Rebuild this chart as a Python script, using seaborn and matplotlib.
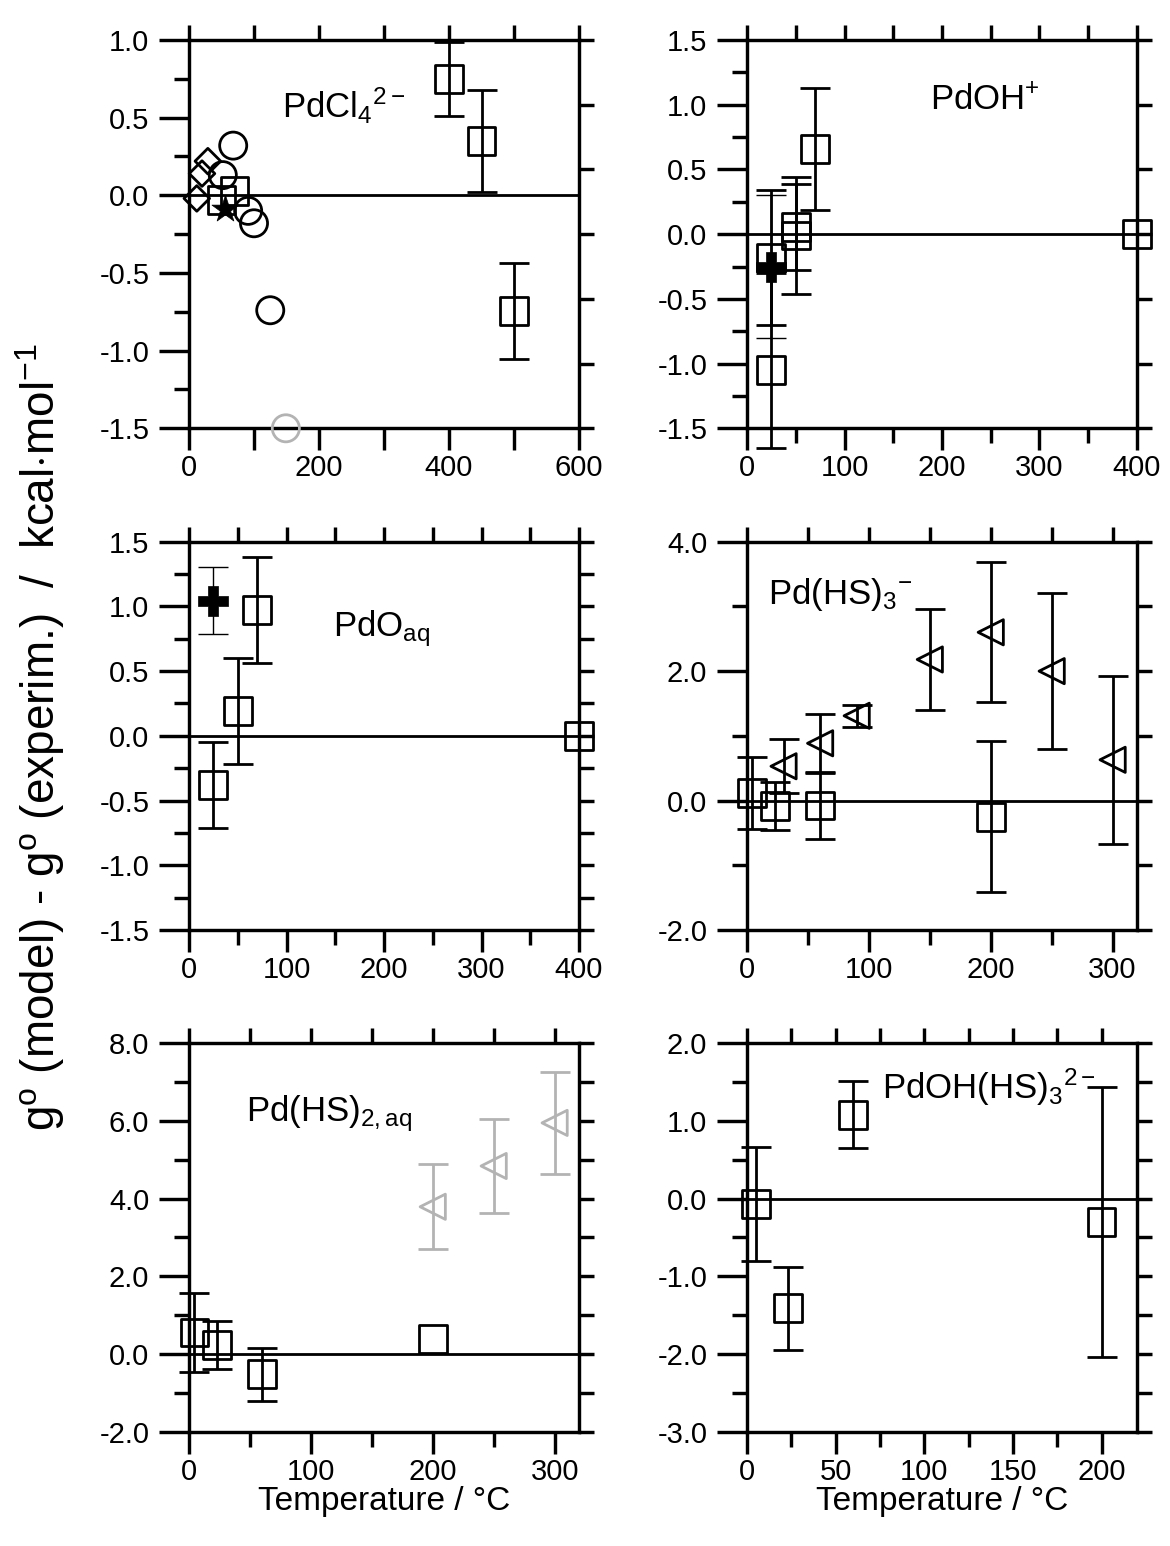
import numpy as np
import matplotlib
matplotlib.use("Agg")
import matplotlib.pyplot as plt
from matplotlib.ticker import MultipleLocator, FuncFormatter
import seaborn as sns

# ---------------- data: deviation g(model) - g(experiment), kcal/mol ----------------
# PdCl4 2-
cl_sq_T = [400, 450, 500]
cl_sq_y = [0.75, 0.35, -0.745]
cl_sq_err = [0.24, 0.33, 0.31]
cl_sq2_T = [50, 70]
cl_sq2_y = [-0.03, 0.03]
cl_circ_T = [68, 52, 91, 100, 125]
cl_circ_y = [0.32, 0.13, -0.10, -0.18, -0.74]
cl_gray_T = [149]
cl_gray_y = [-1.5]
cl_dia_T = [29, 20, 12]
cl_dia_y = [0.22, 0.14, -0.02]
cl_star_T = [55]
cl_star_y = [-0.085]

# PdOH+
oh_sq_T = [25, 25, 50, 50, 70]
oh_sq_y = [-0.18, -1.05, 0.055, -0.01, 0.66]
oh_sq_lo = [0.52, 0.60, 0.335, 0.45, 0.47]
oh_sq_hi = [0.52, 0.75, 0.335, 0.45, 0.47]
oh_sq2_T = [400]
oh_sq2_y = [0.0]
oh_plus_T = [25]
oh_plus_y = [-0.25]
oh_plus_err = [0.555]

# PdO(aq)
o_sq_T = [25, 50, 70]
o_sq_y = [-0.38, 0.19, 0.97]
o_sq_err = [0.335, 0.41, 0.41]
o_sq2_T = [400]
o_sq2_y = [0.0]
o_plus_T = [25]
o_plus_y = [1.045]
o_plus_err = [0.26]

# Pd(HS)3-
hs3_tri_T = [30, 60, 90, 150, 200, 250, 300]
hs3_tri_y = [0.53, 0.885, 1.31, 2.18, 2.60, 2.00, 0.63]
hs3_tri_err = [0.42, 0.455, 0.17, 0.78, 1.08, 1.20, 1.30]
hs3_sq_T = [4, 23, 60, 200]
hs3_sq_y = [0.12, -0.085, -0.075, -0.25]
hs3_sq_err = [0.56, 0.365, 0.515, 1.17]

# Pd(HS)2(aq)
hs2_tri_T = [200, 250, 300]
hs2_tri_y = [3.79, 4.84, 5.95]
hs2_tri_err = [1.09, 1.20, 1.32]
hs2_sq_T = [4.5, 22.7, 60]
hs2_sq_y = [0.55, 0.235, -0.525]
hs2_sq_err = [1.01, 0.625, 0.685]
hs2_sq2_T = [200]
hs2_sq2_y = [0.38]

# PdOH(HS)3 2-
ohs_sq_T = [5, 23, 60, 200]
ohs_sq_y = [-0.07, -1.41, 1.08, -0.30]
ohs_sq_err = [0.73, 0.535, 0.43, 1.74]

# ---------------- style ----------------
sns.set_theme(style="white")
plt.rcParams["font.family"] = ["Liberation Sans", "DejaVu Sans"]
plt.rcParams["mathtext.fontset"] = "custom"
plt.rcParams["mathtext.rm"] = "Liberation Sans"
plt.rcParams["mathtext.it"] = "Liberation Sans:italic"
plt.rcParams["axes.unicode_minus"] = False
for key in ("text.color", "axes.labelcolor", "xtick.color", "ytick.color", "axes.edgecolor"):
    plt.rcParams[key] = "black"

PX = 72.0 / 100.0          # points per pixel at dpi 100
GRAY = "#b3b3b3"
TICK_FS = 21
LABEL_FS = 25
SPINE_W = 3.4 * PX
BAR_W = 2.0
EDGE_W = 2.0

fig = plt.figure(figsize=(11.7, 15.46), dpi=100)
W, H = 1170.0, 1546.0


def make_ax(left_px, top_px, w_px=390.0, h_px=388.3):
    return fig.add_axes([left_px / W, 1 - (top_px + h_px) / H, w_px / W, h_px / H])


def hollow(ax, T, y, marker, size, color="black", lw=EDGE_W):
    sns.scatterplot(x=T, y=y, marker=marker, s=size, facecolor="none",
                    edgecolor=color, linewidth=lw, ax=ax, clip_on=False,
                    zorder=5, legend=False)


def filled(ax, T, y, marker, size, color="black"):
    sns.scatterplot(x=T, y=y, marker=marker, s=size, color=color,
                    edgecolor=color, linewidth=0.5, ax=ax, clip_on=False,
                    zorder=6, legend=False)


def bars(ax, T, y, err, color="black", lw=BAR_W, cap=11):
    cont = ax.errorbar(T, y, yerr=err, fmt="none", ecolor=color, elinewidth=lw,
                       capsize=cap, capthick=lw, zorder=4)
    for child in cont.get_children():
        child.set_clip_on(False)


def style(ax, xlim, xmaj, xmin, xlab_every, ylim, ymaj, ymin, rlim, rstep, topstep):
    ax.set_xlim(*xlim)
    ax.set_ylim(*ylim)
    for s in ax.spines.values():
        s.set_linewidth(SPINE_W)
        s.set_color("black")
        s.set_visible(True)
    ax.axhline(0, color="black", lw=2.8 * PX, zorder=2)

    ax.xaxis.set_major_locator(MultipleLocator(xmaj))
    if xmin:
        ax.xaxis.set_minor_locator(MultipleLocator(xmin))
    ax.xaxis.set_major_formatter(FuncFormatter(
        lambda v, p: ("%d" % round(v)) if abs(v / xlab_every - round(v / xlab_every)) < 1e-6 else ""))
    ax.yaxis.set_major_locator(MultipleLocator(ymaj))
    ax.yaxis.set_minor_locator(MultipleLocator(ymin))
    ax.yaxis.set_major_formatter(FuncFormatter(lambda v, p: ("%.1f" % v).replace("-0.0", "0.0")))

    ax.tick_params(axis="y", which="major", direction="out", length=30 * PX,
                   width=SPINE_W, color="black", labelsize=TICK_FS, pad=7,
                   left=True, right=False)
    ax.tick_params(axis="y", which="minor", direction="out", length=15 * PX,
                   width=SPINE_W, color="black", left=True, right=False)
    ax.tick_params(axis="x", which="major", direction="out", length=22 * PX,
                   width=SPINE_W, color="black", labelsize=TICK_FS, pad=3,
                   bottom=True, top=False)
    ax.tick_params(axis="x", which="minor", direction="out", length=15 * PX,
                   width=SPINE_W, color="black", bottom=True, top=False)
    ax.grid(False)

    # mirrored tick marks on the right and top frames
    rx = ax.twinx()
    rx.set_ylim(*rlim)
    rx.yaxis.set_major_locator(MultipleLocator(rstep))
    rx.tick_params(axis="y", direction="out", length=15 * PX, width=SPINE_W,
                   color="black", labelright=False)
    tx = ax.twiny()
    tx.set_xlim(*xlim)
    tx.xaxis.set_major_locator(MultipleLocator(topstep))
    tx.tick_params(axis="x", direction="out", length=15 * PX, width=SPINE_W,
                   color="black", labeltop=False)
    for t in (rx, tx):
        for s in t.spines.values():
            s.set_visible(False)
        t.grid(False)


# ---------------- panel 1: PdCl4 2- ----------------
ax1 = make_ax(189, 40)
style(ax1, (0, 600), 100, None, 200, (-1.5, 1.0), 0.5, 0.25, (-1.5, 1.5), 0.5, 100)
bars(ax1, cl_sq_T, cl_sq_y, cl_sq_err)
hollow(ax1, cl_sq_T, cl_sq_y, "s", 400)
hollow(ax1, cl_dia_T, cl_dia_y, "D", 170)
hollow(ax1, cl_circ_T, cl_circ_y, "o", 380)
hollow(ax1, cl_sq2_T, cl_sq2_y, "s", 400)
hollow(ax1, cl_gray_T, cl_gray_y, "o", 380, color=GRAY)
filled(ax1, cl_star_T, cl_star_y, "*", 420)
ax1.text(143, 0.50, r"PdCl$_\mathregular{4}$$^\mathregular{2-}$", fontsize=LABEL_FS,
         ha="left", va="baseline")

# ---------------- panel 2: PdOH+ ----------------
ax2 = make_ax(747, 40)
style(ax2, (0, 400), 100, 50, 100, (-1.5, 1.5), 0.5, 0.25, (-1.5, 1.5), 0.5, 50)
bars(ax2, oh_sq_T, oh_sq_y, [oh_sq_lo, oh_sq_hi])
bars(ax2, oh_plus_T, oh_plus_y, oh_plus_err, lw=1.0)
hollow(ax2, oh_sq_T, oh_sq_y, "s", 400)
hollow(ax2, oh_sq2_T, oh_sq2_y, "s", 400)
filled(ax2, oh_plus_T, oh_plus_y, "P", 470)
ax2.text(188, 0.96, r"PdOH$^\mathregular{+}$", fontsize=LABEL_FS,
         ha="left", va="baseline")

# ---------------- panel 3: PdO(aq) ----------------
ax3 = make_ax(189, 541.7)
style(ax3, (0, 400), 100, 50, 100, (-1.5, 1.5), 0.5, 0.25, (-1.5, 1.5), 0.25, 50)
bars(ax3, o_sq_T, o_sq_y, o_sq_err)
bars(ax3, o_plus_T, o_plus_y, o_plus_err, lw=1.0)
hollow(ax3, o_sq_T, o_sq_y, "s", 400)
hollow(ax3, o_sq2_T, o_sq2_y, "s", 400)
filled(ax3, o_plus_T, o_plus_y, "P", 470)
ax3.text(148, 0.766, r"PdO$_\mathregular{aq}$", fontsize=LABEL_FS,
         ha="left", va="baseline")

# ---------------- panel 4: Pd(HS)3- ----------------
ax4 = make_ax(747, 541.7)
style(ax4, (0, 320), 100, 50, 100, (-2.0, 4.0), 2.0, 1.0, (-2.0, 4.0), 1.0, 50)
bars(ax4, hs3_tri_T, hs3_tri_y, hs3_tri_err)
bars(ax4, hs3_sq_T, hs3_sq_y, hs3_sq_err)
hollow(ax4, hs3_tri_T, hs3_tri_y, "<", 330)
hollow(ax4, hs3_sq_T, hs3_sq_y, "s", 400)
ax4.text(17, 3.03, r"Pd(HS)$_\mathregular{3}$$^\mathregular{-}$", fontsize=LABEL_FS,
         ha="left", va="baseline")

# ---------------- panel 5: Pd(HS)2(aq) ----------------
ax5 = make_ax(189, 1043.3)
style(ax5, (0, 320), 100, 50, 100, (-2.0, 8.0), 2.0, 1.0, (-2.0, 8.0), 1.0, 50)
bars(ax5, hs2_tri_T, hs2_tri_y, hs2_tri_err, color=GRAY)
bars(ax5, hs2_sq_T, hs2_sq_y, hs2_sq_err)
hollow(ax5, hs2_tri_T, hs2_tri_y, "<", 330, color=GRAY)
hollow(ax5, hs2_sq_T, hs2_sq_y, "s", 400)
hollow(ax5, hs2_sq2_T, hs2_sq2_y, "s", 400)
ax5.text(47, 6.0, r"Pd(HS)$_\mathregular{2,aq}$", fontsize=LABEL_FS,
         ha="left", va="baseline")

# ---------------- panel 6: PdOH(HS)3 2- ----------------
ax6 = make_ax(747, 1043.3)
style(ax6, (0, 220), 50, 25, 50, (-3.0, 2.0), 1.0, 0.5, (-3.0, 2.0), 0.5, 25)
bars(ax6, ohs_sq_T, ohs_sq_y, ohs_sq_err)
hollow(ax6, ohs_sq_T, ohs_sq_y, "s", 400)
ax6.text(76, 1.29, r"PdOH(HS)$_\mathregular{3}$$^\mathregular{2-}$", fontsize=LABEL_FS,
         ha="left", va="baseline")

for a in (ax1, ax2, ax3, ax4, ax5, ax6):
    a.set_xlabel("")
    a.set_ylabel("")
for a in (ax5, ax6):
    a.set_xlabel("Temperature / °C", fontsize=24, labelpad=0)

fig.text(40 / W, 1 - 737 / H,
         r"g$^\mathregular{o}$ (model) - g$^\mathregular{o}$ (experim.)  /  kcal$\cdot$mol$^\mathregular{-1}$",
         rotation=90, ha="center", va="center", fontsize=33)

fig.savefig("out.png", dpi=100, facecolor="white")
